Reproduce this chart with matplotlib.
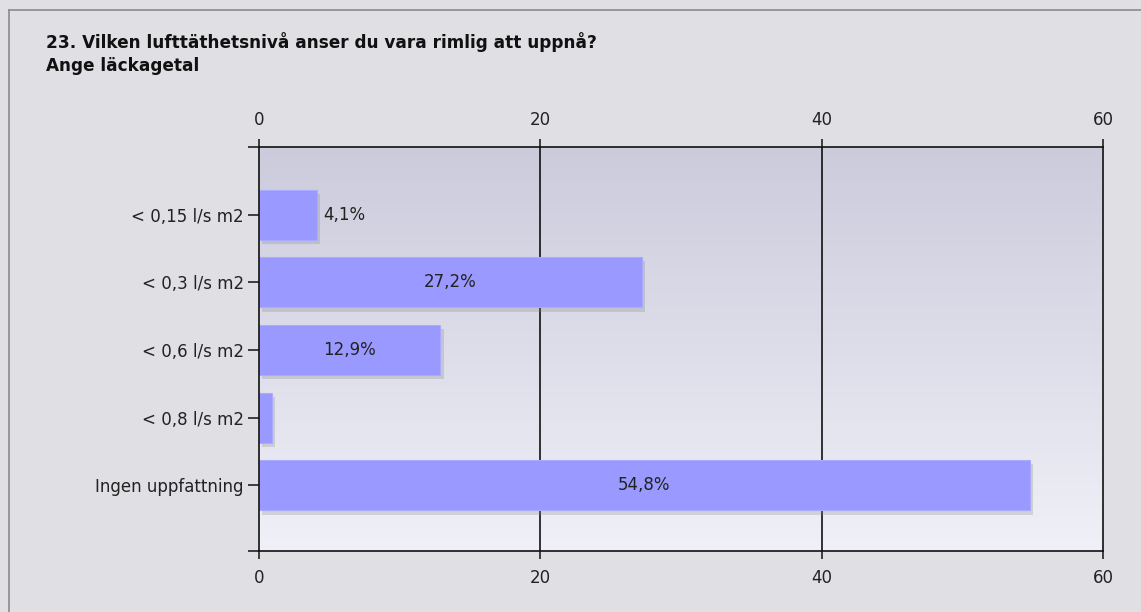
import numpy as np
import matplotlib
matplotlib.use("Agg")
import matplotlib.pyplot as plt
import matplotlib.patheffects as pe
from matplotlib.lines import Line2D
from matplotlib.colors import LinearSegmentedColormap

# data
categories = ["< 0,15 l/s m2", "< 0,3 l/s m2", "< 0,6 l/s m2", "< 0,8 l/s m2", "Ingen uppfattning"]
percent = [4.1, 27.2, 12.9, 0.9, 54.8]
bar_labels = ["4,1%", "27,2%", "12,9%", "", "54,8%"]
x_ticks = [0, 20, 40, 60]

title = "23. Vilken lufttäthetsnivå anser du vara rimlig att uppnå?\nAnge läckagetal"

plt.rcParams["font.family"] = ["DejaVu Sans"]

fig = plt.figure(figsize=(11.41, 6.12), dpi=100)
fig.patch.set_facecolor("#e0dfe4")

# outer frame (left and top edges)
fig.add_artist(Line2D([9 / 1141, 9 / 1141], [0, 1 - 10 / 612], transform=fig.transFigure, color="#8a8a8a", lw=1.2))
fig.add_artist(Line2D([9 / 1141, 1], [1 - 10 / 612, 1 - 10 / 612], transform=fig.transFigure, color="#8a8a8a", lw=1.2))

fig.text(46 / 1141, 1 - 32 / 612, title, ha="left", va="top", fontsize=12.2,
         fontweight="bold", color="#111111", linespacing=1.38)

ax = fig.add_axes([259 / 1141, 1 - 551 / 612, (1103 - 259) / 1141, (551 - 147) / 612])
ax.set_facecolor("none")

ypos = np.arange(len(categories))
ax.set_xlim(0, 60)
ax.set_ylim(4.97, -1.0)

# gradient background of the plot area
grad = np.linspace(0, 1, 256).reshape(-1, 1)
cmap = LinearSegmentedColormap.from_list("bg", ["#cbcbdc", "#f0f0f8"])
ax.imshow(grad, extent=[0, 60, 4.97, -1.0], aspect="auto", cmap=cmap, zorder=0)

# vertical gridlines
for t in x_ticks[1:-1]:
    ax.axvline(t, color="black", lw=1.1, zorder=1)

bars = ax.barh(ypos, percent, height=0.74, color="#9999ff", edgecolor="#aaaaff", lw=0.8, zorder=3)
for b in bars:
    b.set_path_effects([pe.SimplePatchShadow(offset=(2.5, -3), shadow_rgbFace="#808080", alpha=0.25), pe.Normal()])

for i, (v, lab) in enumerate(zip(percent, bar_labels)):
    if not lab:
        continue
    if v < 8:
        ax.text(v + 0.45, i, lab, ha="left", va="center", fontsize=12, color="#222222", zorder=4)
    else:
        ax.text(v / 2, i, lab, ha="center", va="center", fontsize=12, color="#222222", zorder=4)

ax.set_yticks(ypos)
ax.set_yticklabels(categories)
ax.set_yticks([4.97, -1.0], minor=True)
ax.tick_params(axis="y", which="both", length=8, width=1.1, color="#111111", labelsize=12, labelcolor="#222222", pad=3)

ax.set_xticks(x_ticks)
ax.tick_params(axis="x", which="both", top=True, labeltop=True, bottom=True, labelbottom=True,
               length=6, width=1.1, color="#111111", labelsize=12, labelcolor="#222222", pad=7)

for s in ax.spines.values():
    s.set_color("#111111")
    s.set_linewidth(1.2)
    s.set_zorder(5)

plt.savefig("out.png", dpi=100, facecolor=fig.get_facecolor())
